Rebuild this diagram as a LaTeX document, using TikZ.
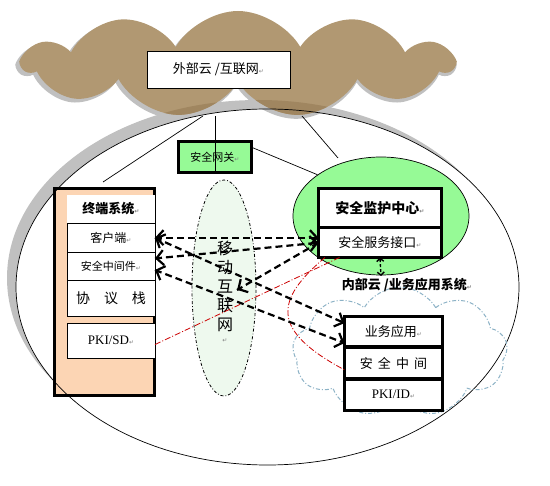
\documentclass[tikz,border=0pt]{standalone}
\usepackage{fontspec}
\setmainfont{Noto Sans CJK SC}
\newfontfamily\latinfont{Liberation Serif}
\newfontfamily\symbfont{DejaVu Sans}
\usetikzlibrary{arrows.meta,shapes.symbols,shapes.geometric,positioning,decorations.markings}
\definecolor{cloudbrown}{RGB}{177,152,114}
\definecolor{clouddark}{RGB}{160,134,96}
\definecolor{shadowgray}{RGB}{192,192,192}
\definecolor{monigreen}{RGB}{150,250,150}
\definecolor{mobgreen}{RGB}{238,249,238}
\definecolor{peach}{RGB}{252,213,180}
\definecolor{innerblue}{RGB}{140,178,198}
\definecolor{linkred}{RGB}{204,0,0}
\newcommand\retmark{{\symbfont\color{gray}\fontsize{6}{6}\selectfont ↵}}
\newcommand\fs[1]{\fontsize{#1}{#1}\selectfont}
\tikzset{
  barb/.tip={Straight Barb[length=7pt,width=15pt]},
  headtip/.style={postaction={decorate,decoration={markings,
    mark=at position 1 with {\pgfsetdash{}{0pt}\arrow{barb}}}}},
  bothtips/.style={postaction={decorate,decoration={markings,
    mark=at position 0 with {\pgfsetdash{}{0pt}\arrowreversed{barb}},
    mark=at position 1 with {\pgfsetdash{}{0pt}\arrow{barb}}}}}
}

\begin{document}
\begin{tikzpicture}[x=1pt,y=-1pt,
  thinbox/.style={draw,line width=0.8pt,fill=white,minimum width=88pt,inner sep=0pt,outer sep=0pt},
  thickbox/.style={draw,line width=3pt,fill=white,inner sep=0pt,outer sep=0pt},
  cloudshape/.style={cloud,cloud puffs=11,cloud puff arc=120,cloud ignores aspect,inner sep=0pt},
  link/.style={line width=2.2pt,dash pattern=on 7pt off 4pt},
  redlink/.style={draw=linkred,line width=0.8pt,dash pattern=on 6pt off 2pt on 1pt off 2pt}]

\useasboundingbox (0,0) rectangle (550,486);

\fill[shadowgray] (258.5,278) ellipse [x radius=251.5pt,y radius=178pt];
\fill[white] (267.5,287) ellipse [x radius=251.5pt,y radius=178pt];

\node[cloudshape,fill=shadowgray,minimum width=434pt,minimum height=108pt] at (236,67) {};
\node[cloudshape,fill=cloudbrown,minimum width=430pt,minimum height=106pt] (outcloud) at (238,64) {};
\begin{scope}
  \clip (258.5,278) ellipse [x radius=251.5pt,y radius=178pt];
  \node[cloudshape,fill=clouddark,minimum width=430pt,minimum height=106pt] at (238,64) {};
\end{scope}

\coordinate (c_t) at (203,116);
\coordinate (c_g) at (215,116);
\coordinate (c_m) at (302,116);
\coordinate (t_end) at (103,182);
\coordinate (m_end) at (338,158);
\coordinate (mobin) at (237,290);
\coordinate (dbend) at (381,276);

\node[draw,line width=0.7pt,fill=white,minimum width=143pt,minimum height=37pt,font=\fs{13}] (ext) at (218.5,69.5) {外部云 /互联网\retmark};

\node[thickbox,fill=monigreen,minimum width=73pt,minimum height=31pt,font=\fs{11}] (gw) at (215,157) {安全网关\retmark};

\node[draw,line width=3.5pt,fill=peach,minimum width=100pt,minimum height=207pt] (term) at (104.5,292) {};
\node[fill=white,minimum width=88pt,minimum height=28pt,inner sep=0pt,font=\bfseries\fs{13}] (termhead) at (111,209) {终端系统\retmark};
\node[thinbox,minimum height=29pt,below=0pt of termhead,font=\fs{12}] (client) {客户端\retmark};
\node[thinbox,minimum height=28pt,below=0pt of client,font=\fs{11}] (mware) {安全中间件\retmark};
\node[thinbox,minimum height=36pt,below=0pt of mware,font=\fs{14}] (proto) {协\quad 议\quad 栈};
\node[thinbox,minimum height=35pt,below=7pt of proto,font=\latinfont\fs{13}] (pkisd) {PKI/SD\retmark};

\draw[line width=0.7pt] (267.5,287) ellipse [x radius=251.5pt,y radius=178pt];

\draw[line width=0.7pt] (c_t) -- (t_end);
\draw[line width=0.7pt] (c_m) -- (m_end);
\draw[line width=0.7pt] (c_g) -- (gw.south);

\node[ellipse,draw,line width=0.8pt,dash pattern=on 3pt off 2pt on 0.8pt off 2pt,fill=mobgreen,minimum width=64pt,minimum height=216pt] (mobile) at (224,288) {};
\node[align=center,font=\fs{16},inner sep=0pt] (mobtext) at (225,292) {移\\[3pt]动\\[3pt]互\\[3pt]联\\[3pt]网\\[-4pt]\retmark};

\node[ellipse,draw,line width=0.7pt,fill=monigreen,minimum width=176pt,minimum height=118pt] (mon) at (381,216) {};
\draw[line width=0.7pt] (gw.15) -- (mon.147);
\node[thickbox,minimum width=123pt,minimum height=39.5pt,font=\bfseries\fs{14}] (moncenter) at (380,208.25) {安全监护中心\retmark};
\node[thickbox,minimum width=123pt,minimum height=29.5pt,below=0pt of moncenter,font=\fs{13}] (secif) {安全服务接口\retmark};

\node[cloudshape,cloud puffs=9,draw=innerblue,line width=1pt,dash pattern=on 4pt off 2pt on 1pt off 2pt,minimum width=215pt,minimum height=130pt] (incloud) at (400,352) {};
\node[font=\bfseries\fs{13}] (inlabel) at (407,285) {内部云 /业务应用系统\retmark};

\node[thickbox,line width=3.5pt,minimum width=98pt,minimum height=30.5pt,font=\fs{13}] (bizapp) at (393.5,331.75) {业务应用\retmark};
\node[thickbox,line width=3.5pt,minimum width=98pt,minimum height=32pt,below=0pt of bizapp,font=\fs{13}] (secmid) {安\,\ 全\,\ 中\,\ 间};
\node[thickbox,line width=3.5pt,minimum width=98pt,minimum height=31.5pt,below=0pt of secmid,font=\latinfont\fs{13}] (pkiid) {PKI/ID\retmark};

\draw[redlink] (pkisd.-5) -- (secif.200);
\draw[redlink] (secif.195) .. controls (275,300) and (270,330) .. (secmid.188);

\draw[link,bothtips] (client.east) -- (client.east -| secif.west);
\draw[link,bothtips] (mware.10) -- (secif.west);
\draw[link,bothtips] (client.east) -- (bizapp.170);
\draw[link,bothtips] (mware.-5) -- (bizapp.193);
\draw[link,headtip] (secif.west) -- (mobin);
\draw[line width=1.4pt,dash pattern=on 3pt off 2pt,{Straight Barb[length=3pt,width=7pt]}-{Straight Barb[length=3pt,width=7pt]}] (secif.south) -- (dbend);

\end{tikzpicture}
\end{document}
